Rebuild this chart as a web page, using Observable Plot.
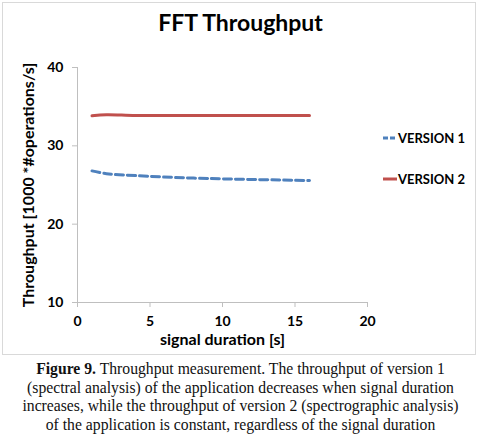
<!DOCTYPE html>
<html>
<head>
<meta charset="utf-8">
<script src="https://cdn.jsdelivr.net/npm/d3@7"></script>
<script src="https://cdn.jsdelivr.net/npm/@observablehq/plot@0.6"></script>
<style>
  html, body { margin: 0; padding: 0; background: #fff; }
  #page { position: relative; width: 481px; height: 441px; overflow: hidden; font-family: Lato, "Open Sans", sans-serif; }
  #frame { position: absolute; left: 2px; top: 2px; width: 472px; height: 351px; border: 1px solid #d9d9d9; }
  #chart { position: absolute; left: 0; top: 0; }
  #title { position: absolute; left: 0; width: 481px; top: 8px; text-align: center; font-weight: bold; font-size: 23px; color: #000; }
  .leg { position: absolute; left: 383px; font-weight: bold; font-size: 13px; color: #000; display: flex; align-items: center; }
  .leg svg { margin-right: 1px; }
  #caption { position: absolute; left: 0; width: 481px; top: 360px; text-align: center; font-family: "Liberation Serif", serif; font-size: 15.7px; line-height: 18.5px; color: #111; }
</style>
</head>
<body>
<div id="page">
  <div id="frame"></div>
  <div id="chart"></div>
  <div id="title">FFT Throughput</div>
  <div id="legend"></div>
  <div id="caption"><b>Figure 9.</b> Throughput measurement. The throughput of version 1<br>(spectral analysis) of the application decreases when signal duration<br>increases, while the throughput of version 2 (spectrographic analysis)<br>of the application is constant, regardless of the signal duration</div>
</div>
<script>
const durations = [1, 2, 4, 8, 16];
const version1 = [26.8, 26.45, 26.2, 25.88, 25.57];
const version2 = [33.83, 33.98, 33.87, 33.87, 33.88];
const seriesNames = ["VERSION 1", "VERSION 2"];
const seriesColors = ["#4f81bd", "#c0504d"];
const xTicks = [0, 5, 10, 15, 20];
const yTicks = [10, 20, 30, 40];

const rows = [];
durations.forEach((d, i) => {
  rows.push({x: d, y: version1[i], s: seriesNames[0]});
  rows.push({x: d, y: version2[i], s: seriesNames[1]});
});

const axisColor = "#bfbfbf";
const chart = Plot.plot({
  width: 481,
  height: 360,
  marginLeft: 77,
  marginRight: 114,
  marginTop: 67,
  marginBottom: 58,
  style: {fontFamily: "Lato, 'Open Sans', sans-serif", fontSize: "14px", fontWeight: "bold", color: "#000", background: "transparent"},
  x: {domain: [0, 20], ticks: xTicks},
  y: {domain: [10, 40], ticks: yTicks},
  marks: [
    Plot.ruleX([0], {stroke: axisColor, strokeWidth: 1}),
    Plot.ruleY([10], {stroke: axisColor, strokeWidth: 1}),
    Plot.axisX({ticks: xTicks, tickSize: 5, tickPadding: 9, stroke: axisColor, strokeOpacity: 1, label: null, fill: "#000", fontSize: 14, fontWeight: "bold"}),
    Plot.axisY({ticks: yTicks, tickSize: 5, tickPadding: 9, stroke: axisColor, strokeOpacity: 1, label: null, fill: "#000", fontSize: 14, fontWeight: "bold"}),
    Plot.text(["signal duration [s]"], {frameAnchor: "bottom", dy: 42, fontSize: 16, fontWeight: "bold", fill: "#000"}),
    Plot.text(["Throughput [1000 *#operations/s]"], {frameAnchor: "left", textAnchor: "middle", dx: -49, dy: 0, rotate: -90, fontSize: 16, fontWeight: "bold", fill: "#000"}),
    Plot.line(rows.filter(r => r.s === seriesNames[1]), {x: "x", y: "y", stroke: seriesColors[1], strokeWidth: 3, curve: "catmull-rom"}),
    Plot.line(rows.filter(r => r.s === seriesNames[0]), {x: "x", y: "y", stroke: seriesColors[0], strokeWidth: 3, strokeDasharray: "8,4", curve: "catmull-rom"})
  ]
});
document.getElementById("chart").appendChild(chart);

const legend = document.getElementById("legend");
const legendTops = [130, 171];
seriesNames.forEach((name, i) => {
  const div = document.createElement("div");
  div.className = "leg";
  div.style.top = legendTops[i] + "px";
  const dash = i === 0 ? 'stroke-dasharray="5,2"' : "";
  div.innerHTML = `<svg width="14" height="16"><line x1="0" x2="14" y1="8" y2="8" stroke="${seriesColors[i]}" stroke-width="3" ${dash}/></svg><span>${name}</span>`;
  legend.appendChild(div);
});
</script>
</body>
</html>
